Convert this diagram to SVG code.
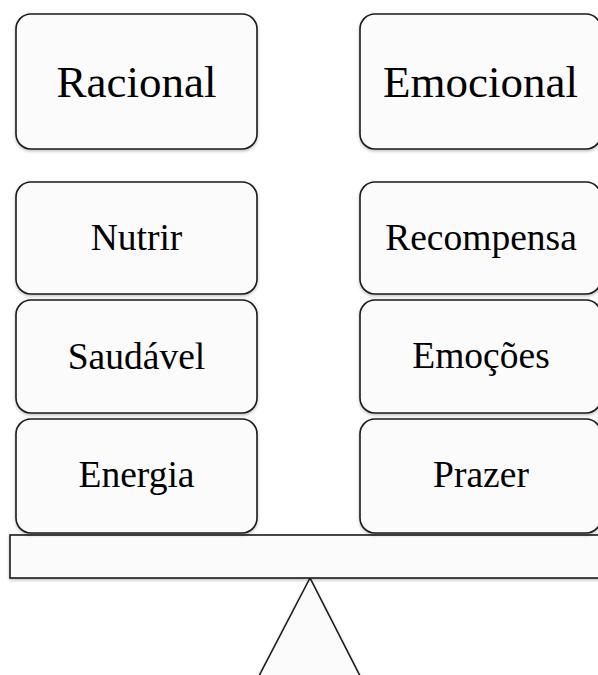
<svg xmlns="http://www.w3.org/2000/svg" width="598" height="675" viewBox="0 0 598 675">
<defs>
<filter id="sh" x="-5%" y="-5%" width="110%" height="115%">
<feDropShadow dx="0" dy="1.5" stdDeviation="1.5" flood-color="#000" flood-opacity="0.25"/>
</filter>
</defs>
<style>
.box{fill:#fbfbfb;stroke:#1a1a1a;stroke-width:1.6;filter:url(#sh)}
.t{font-family:"Liberation Serif","Times New Roman",serif;fill:#000;text-anchor:middle}
.big{font-size:45px}
.sm{font-size:37.5px}
</style>
<g id="fulcrum">
<polygon class="box" points="310,578 259,676 360,676"/>
</g>
<g id="beam">
<rect class="box" x="10" y="535" width="600" height="43"/>
</g>
<g id="racional">
<rect class="box" x="16" y="14" width="241" height="135" rx="15"/>
<text class="t big" x="136.5" y="96.5">Racional</text>
</g>
<g id="emocional">
<rect class="box" x="360" y="14" width="241" height="135" rx="15"/>
<text class="t big" x="480.5" y="96.5">Emocional</text>
</g>
<g id="nutrir">
<rect class="box" x="16" y="182" width="241" height="112" rx="15"/>
<text class="t sm" x="136.5" y="250">Nutrir</text>
</g>
<g id="saudavel">
<rect class="box" x="16" y="300" width="241" height="113" rx="15"/>
<text class="t sm" x="136.5" y="369">Saudável</text>
</g>
<g id="energia">
<rect class="box" x="16" y="419" width="241" height="114" rx="15"/>
<text class="t sm" x="136.5" y="487">Energia</text>
</g>
<g id="recompensa">
<rect class="box" x="360" y="182" width="241" height="112" rx="15"/>
<text class="t sm" x="481" y="250">Recompensa</text>
</g>
<g id="emocoes">
<rect class="box" x="360" y="300" width="241" height="113" rx="15"/>
<text class="t sm" x="481" y="368">Emoções</text>
</g>
<g id="prazer">
<rect class="box" x="360" y="419" width="241" height="114" rx="15"/>
<text class="t sm" x="481" y="487">Prazer</text>
</g>
<g id="connectors"></g>
</svg>
